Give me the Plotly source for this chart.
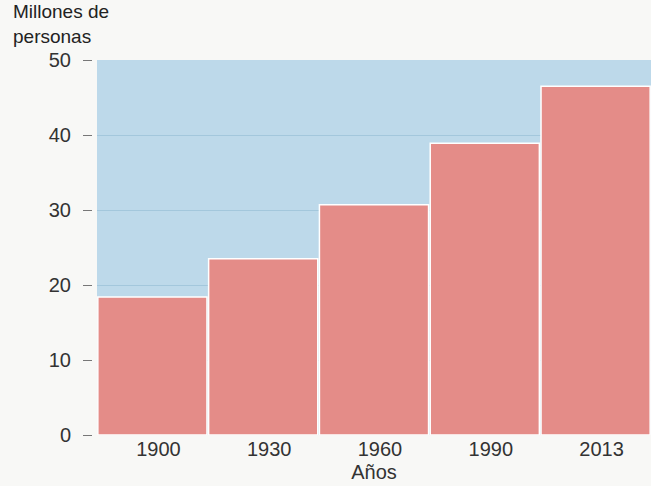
import plotly.graph_objects as go

years = ["1900", "1930", "1960", "1990", "2013"]
population = [18.4, 23.5, 30.7, 38.9, 46.5]
y_ticks = [0, 10, 20, 30, 40, 50]

W, H = 651, 486
L, R, T, B = 92, 0, 60, 51
plot_w = W - L - R
FONT = "Liberation Sans, Arial, sans-serif"

fig = go.Figure()
fig.add_trace(go.Bar(
    x=years, y=population,
    marker=dict(color="#E48C88", line=dict(color="#FFFFFF", width=1.5)),
    width=0.985,
))

fig.update_layout(
    width=W, height=H,
    margin=dict(l=L, r=R, t=T, b=B, pad=0),
    paper_bgcolor="#F8F8F6",
    plot_bgcolor="#BDD9EA",
    font=dict(family=FONT, size=20, color="#333333"),
    showlegend=False,
    bargap=0.015,
    xaxis=dict(
        domain=[5 / plot_w, 1],
        showgrid=False, showline=False, zeroline=False,
        ticks="", tickfont=dict(size=20, color="#333333"),
        ticklabelshift=6,
        title=dict(text="Años", font=dict(size=20, color="#333333"), standoff=5),
        range=[-0.5, 4.5],
    ),
    yaxis=dict(
        range=[0, 50],
        tickvals=y_ticks,
        ticks="outside", ticklen=9, tickwidth=1, tickcolor="#777777",
        ticklabelstandoff=8,
        showgrid=True, gridcolor="#A3C7DC", gridwidth=1,
        zeroline=False, showline=False,
        anchor="free", position=0,
        tickfont=dict(size=20, color="#333333"),
    ),
)

fig.add_annotation(
    text="Millones de<br>personas",
    xref="paper", yref="paper",
    x=-L / plot_w + 11 / plot_w, y=1 + 61 / (H - T - B),
    xanchor="left", yanchor="top", align="left",
    showarrow=False,
    font=dict(family=FONT, size=19, color="#222222"),
)

fig.write_html("out.html", config={"displayModeBar": False},
               post_script="document.body.style.margin='0';")
